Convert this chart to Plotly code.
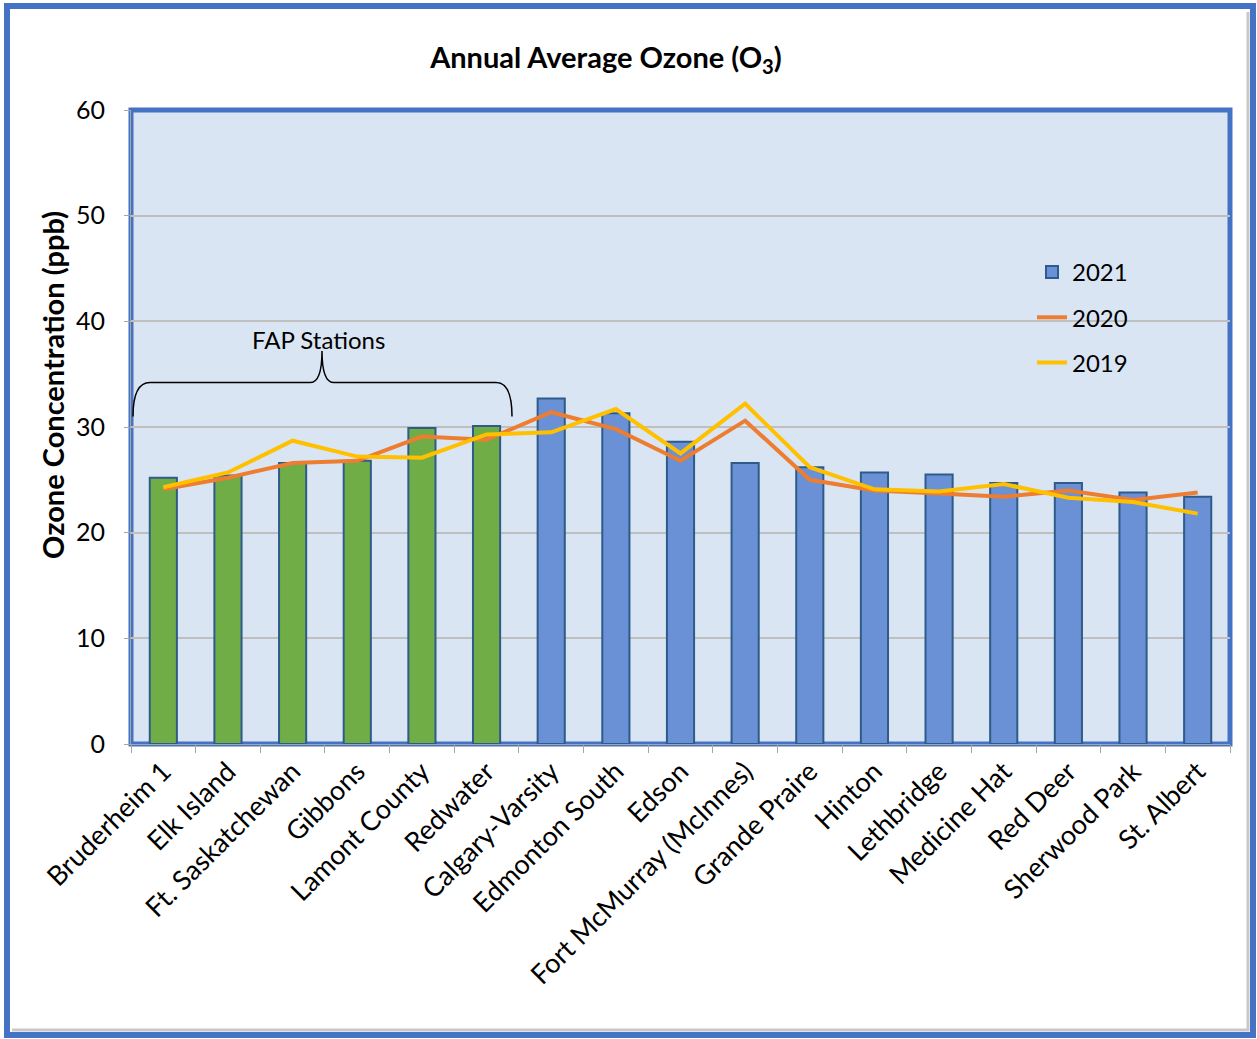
import plotly.graph_objects as go

stations = ["Bruderheim 1", "Elk Island", "Ft. Saskatchewan", "Gibbons", "Lamont County",
            "Redwater", "Calgary-Varsity", "Edmonton South", "Edson", "Fort McMurray (McInnes)",
            "Grande Praire", "Hinton", "Lethbridge", "Medicine Hat", "Red Deer",
            "Sherwood Park", "St. Albert"]
o3_2021 = [25.2, 25.4, 26.6, 26.8, 29.9, 30.1, 32.7, 31.3, 28.6, 26.6,
           26.2, 25.7, 25.5, 24.7, 24.7, 23.8, 23.4]
o3_2020 = [24.1, 25.2, 26.6, 26.8, 29.1, 28.8, 31.4, 29.8, 26.8, 30.6,
           25.0, 24.0, 23.7, 23.4, 24.0, 23.1, 23.8]
o3_2019 = [24.3, 25.7, 28.7, 27.2, 27.1, 29.3, 29.5, 31.7, 27.5, 32.2,
           26.2, 24.1, 23.9, 24.6, 23.3, 22.9, 21.8]
fap_count = 6

FONT = "Lato"
W, H = 1257, 1039
L, R, T, B = 131, 27, 110, 295
PW, PH = W - L - R, H - T - B

BLUE = "#6A90D5"
GREEN = "#70AD47"
EDGE = "#2E5C8A"

def px_x(px):
    return (px - L) / PW

def px_y(py):
    return (H - B - py) / PH

bar_colors = [GREEN if i < fap_count else BLUE for i in range(len(stations))]

fig = go.Figure()
# legend entry for 2021 (blue swatch)
fig.add_trace(go.Bar(
    x=[stations[0]], y=[None], name="2021", width=0.42,
    marker=dict(color=BLUE, line=dict(color=EDGE, width=2)),
    legendgroup="a", hoverinfo="skip",
))
fig.add_trace(go.Bar(
    x=stations, y=o3_2021, name="2021", width=0.42,
    marker=dict(color=bar_colors, line=dict(color=EDGE, width=2)),
    legendgroup="a", showlegend=False,
))
fig.add_trace(go.Scatter(
    x=stations, y=o3_2020, name="2020", mode="lines",
    line=dict(color="#ED7D31", width=4), legendgroup="b",
))
fig.add_trace(go.Scatter(
    x=stations, y=o3_2019, name="2019", mode="lines",
    line=dict(color="#FFC000", width=4), legendgroup="c",
))

shapes = [
    # plot frame
    dict(type="rect", xref="paper", yref="paper", x0=0, x1=1, y0=0, y1=1,
         line=dict(color="#4472C4", width=5), layer="below"),
    # outer frame shadow
    dict(type="path", xref="paper", yref="paper",
         path=(f"M {px_x(1248)},{px_y(12)} L {px_x(1248)},{px_y(1030)} "
               f"L {px_x(12)},{px_y(1030)}"),
         line=dict(color="#C8C8C8", width=3)),
    # outer frame
    dict(type="rect", xref="paper", yref="paper",
         x0=px_x(7), x1=px_x(1253), y0=px_y(1035), y1=px_y(6),
         line=dict(color="#4472C4", width=6)),
    # FAP bracket
    dict(type="path", xref="paper", yref="y",
         path=(f"M {px_x(133)},31.0 Q {px_x(133)},34.2 {px_x(150)},34.2 "
               f"L {px_x(310)},34.2 Q {px_x(322)},34.2 {px_x(322)},37.2 "
               f"Q {px_x(322)},34.2 {px_x(334)},34.2 L {px_x(496)},34.2 "
               f"Q {px_x(512)},34.2 {px_x(512)},31.0"),
         line=dict(color="black", width=1.5)),
]

annotations = [
    dict(text="FAP Stations", xref="paper", yref="y", x=px_x(318), y=38.3,
         xanchor="center", yanchor="middle", showarrow=False,
         font=dict(family=FONT, size=24, color="black")),
    dict(text="<b>Ozone Concentration (ppb)</b>", xref="paper", yref="paper",
         x=px_x(52), y=px_y(385), xanchor="center", yanchor="middle",
         textangle=-90, showarrow=False,
         font=dict(family=FONT, size=29, color="black")),
]

fig.update_layout(
    width=W, height=H,
    margin=dict(l=L, r=R, t=T, b=B),
    paper_bgcolor="white",
    plot_bgcolor="#DAE5F3",
    font=dict(family=FONT, size=24, color="black"),
    title=dict(text="<b>Annual Average Ozone (O<sub>3</sub>)</b>",
               x=606 / W, xanchor="center", y=1 - 58 / H, yanchor="middle",
               font=dict(family=FONT, size=29, color="black")),
    showlegend=True,
    barmode="overlay",
    legend=dict(x=px_x(1032), y=px_y(250), xanchor="left", yanchor="top",
                bgcolor="rgba(0,0,0,0)", traceorder="grouped", tracegroupgap=11,
                font=dict(family=FONT, size=24, color="black")),
    shapes=shapes,
    annotations=annotations,
)
fig.update_yaxes(range=[0, 60], dtick=10, showgrid=True, gridcolor="#BFBFBF",
                 gridwidth=1.5, zeroline=False, showline=True, linecolor="#A6A6A6",
                 ticks="outside", ticklen=6, tickcolor="#A6A6A6",
                 ticklabelstandoff=14,
                 tickfont=dict(family=FONT, size=25, color="black"))
fig.update_xaxes(showline=True, linecolor="#A6A6A6", ticks="outside",
                 tickson="boundaries", ticklen=8, tickcolor="#A6A6A6",
                 tickangle=-45, showgrid=False,
                 categoryorder="array", categoryarray=stations,
                 tickfont=dict(family=FONT, size=27, color="black"))

fig.write_html("out.html")
